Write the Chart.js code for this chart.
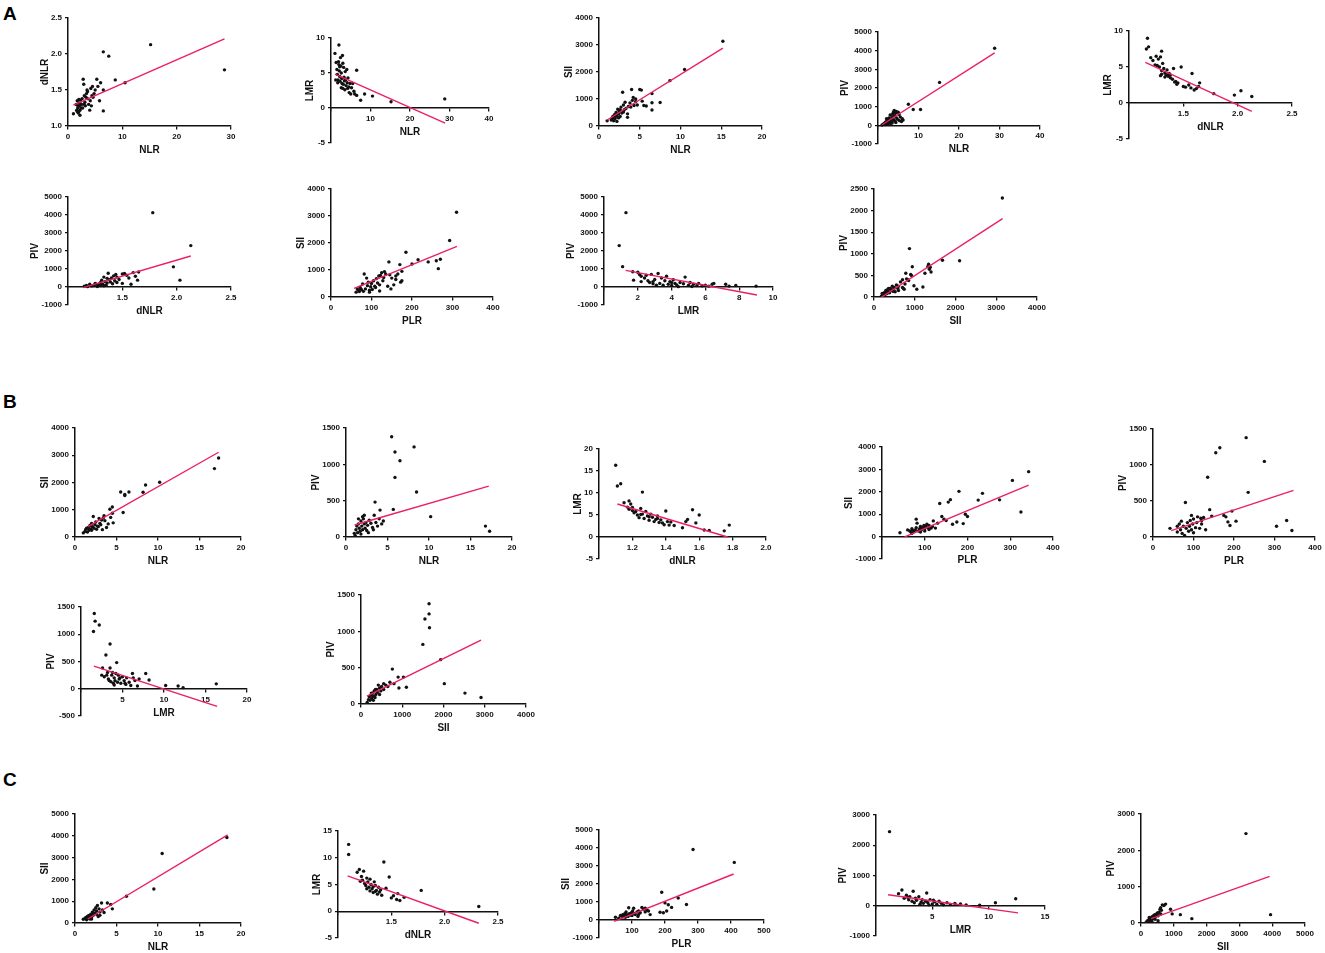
<!DOCTYPE html>
<html>
<head>
<meta charset="utf-8">
<script src="https://cdn.jsdelivr.net/npm/chart.js@4.4.1/dist/chart.umd.min.js"></script>
<style>
  html, body { margin: 0; padding: 0; background: #fff; }
  body { width: 1325px; height: 953px; position: relative; overflow: hidden; font-family: "Liberation Sans", Arial, sans-serif; }
  .tag { position: absolute; left: 3px; font-weight: bold; font-size: 19px; line-height: 19px; color: #000; }
  canvas { position: absolute; }
</style>
</head>
<body>
<div class="tag" style="top:4px">A</div>
<div class="tag" style="top:392px">B</div>
<div class="tag" style="top:770px">C</div>
<script>
// ---- data: [x, y] points, plus regression line ends ----
const a1Pts = [[1.0,1.17],[1.5,1.3],[1.6,1.22],[1.7,1.35],[1.8,1.25],[1.9,1.18],[2.0,1.32],[2.0,1.2],[2.1,1.28],[2.2,1.15],[2.3,1.36],[2.4,1.25],[2.5,1.3],[1.8,1.28],[2.2,1.22],[2.6,1.38],[2.8,1.65],[2.9,1.58],[3.0,1.42],[3.1,1.33],[3.2,1.28],[3.3,1.4],[3.4,1.45],[3.5,1.5],[3.6,1.38],[3.8,1.3],[4.0,1.22],[4.1,1.35],[4.2,1.52],[4.4,1.42],[4.5,1.55],[4.6,1.4],[4.8,1.45],[5.0,1.5],[5.3,1.65],[5.5,1.55],[5.8,1.35],[6.0,1.6],[6.5,1.21],[6.5,1.5],[6.5,2.03],[7.5,1.97],[8.7,1.64],[10.5,1.6],[15.2,2.13],[28.8,1.78],[2.7,1.25],[3.0,1.3],[2.0,1.37],[1.7,1.2],[2.3,1.31],[3.6,1.48],[4.3,1.28]];
const a1Fit = [[1.0,1.29],[28.8,2.21]];

const a2Pts = [[1.0,7.8],[1.3,6.5],[1.5,5.5],[1.6,4.8],[1.8,4.0],[2.0,9.0],[2.0,6.2],[2.1,5.3],[2.2,4.5],[2.3,3.8],[2.4,7.2],[2.5,6.0],[2.6,5.0],[2.7,4.2],[2.8,3.5],[2.9,7.5],[3.0,6.4],[3.0,2.8],[3.2,5.8],[3.3,4.4],[3.4,3.9],[3.5,2.6],[3.6,5.2],[3.7,4.0],[3.8,3.2],[4.0,5.5],[4.1,3.6],[4.2,2.8],[4.3,4.3],[4.5,3.0],[4.6,2.2],[4.8,3.5],[5.0,2.0],[5.2,2.9],[5.5,3.5],[5.8,2.4],[6.0,2.0],[6.5,5.4],[6.5,1.8],[7.5,1.1],[8.5,2.0],[10.5,1.7],[15.2,0.9],[28.8,1.3],[1.2,4.0],[1.7,3.6],[2.6,2.9],[3.1,3.4],[2.2,5.9],[1.9,6.6]];
const a2Fit = [[1.0,4.84],[28.9,-2.16]];

const a3Pts = [[1.0,190],[1.5,220],[1.6,280],[1.7,350],[1.8,190],[1.9,420],[2.0,300],[2.1,500],[2.2,380],[2.3,620],[2.4,450],[2.5,550],[2.6,350],[2.7,700],[2.8,480],[2.9,1250],[3.0,780],[3.1,600],[3.3,650],[3.5,320],[3.5,450],[3.6,720],[3.8,850],[4.0,1350],[4.1,950],[4.2,1060],[4.3,760],[4.5,900],[4.7,780],[5.0,1350],[5.2,1330],[5.3,920],[5.5,760],[5.8,740],[6.5,1200],[6.5,860],[6.5,590],[7.5,870],[8.7,1680],[10.5,2090],[15.2,3140],[1.9,250],[2.2,170],[2.6,600],[3.2,880],[3.9,700],[4.5,1000],[2.0,380],[2.4,300],[3.0,520]];
const a3Fit = [[1.0,223],[15.2,2885]];

const a4Pts = [[1.0,20],[1.3,60],[1.5,100],[1.6,50],[1.8,150],[2.0,80],[2.0,200],[2.2,120],[2.3,300],[2.4,180],[2.5,90],[2.6,250],[2.7,400],[2.8,150],[3.0,550],[3.0,280],[3.2,200],[3.3,350],[3.5,450],[3.5,120],[3.6,600],[3.8,700],[3.9,300],[4.0,800],[4.1,500],[4.2,220],[4.3,650],[4.5,750],[4.6,400],[4.8,320],[5.0,700],[5.2,580],[5.3,250],[5.5,450],[5.8,200],[6.0,350],[6.2,280],[7.5,1130],[8.7,850],[10.5,850],[15.2,2300],[28.8,4130],[1.9,40],[2.5,160],[3.1,100],[4.4,150],[2.1,350],[3.4,220]];
const a4Fit = [[1.0,30],[28.8,3880]];

const a5Pts = [[1.17,9.0],[1.16,7.5],[1.18,7.8],[1.2,6.3],[1.22,5.9],[1.25,6.5],[1.27,6.1],[1.24,5.3],[1.28,5.0],[1.3,7.2],[1.3,4.5],[1.31,5.5],[1.29,6.4],[1.32,4.8],[1.33,4.2],[1.34,3.9],[1.35,4.6],[1.36,3.7],[1.37,4.1],[1.38,3.5],[1.4,3.3],[1.41,4.8],[1.42,2.9],[1.43,3.0],[1.44,2.6],[1.45,2.8],[1.48,5.0],[1.5,2.3],[1.52,2.2],[1.55,2.5],[1.57,2.1],[1.58,4.1],[1.6,1.8],[1.62,2.0],[1.64,2.3],[1.65,2.8],[1.78,1.3],[1.97,1.1],[2.03,1.7],[2.13,0.9],[1.29,3.8],[1.33,3.6],[1.35,3.9],[1.26,5.2],[1.38,3.9],[1.3,4.0]];
const a5Fit = [[1.15,5.65],[2.13,-1.16]];

const a6Pts = [[1.15,40],[1.17,80],[1.18,20],[1.2,150],[1.22,60],[1.24,100],[1.25,200],[1.27,30],[1.28,120],[1.29,180],[1.3,250],[1.3,80],[1.31,380],[1.32,150],[1.33,550],[1.34,300],[1.35,100],[1.36,220],[1.37,760],[1.38,400],[1.39,280],[1.4,500],[1.41,180],[1.42,620],[1.43,350],[1.44,700],[1.45,250],[1.47,420],[1.5,200],[1.52,750],[1.54,650],[1.56,500],[1.58,150],[1.6,800],[1.62,600],[1.64,380],[1.65,830],[1.78,4130],[1.97,1120],[2.03,380],[2.13,2300],[1.26,150],[1.33,70],[1.45,550],[1.36,480],[1.5,720]];
const a6Fit = [[1.14,-37],[2.13,1720]];

const a7Pts = [[62,180],[65,300],[68,250],[70,200],[72,350],[75,280],[78,480],[80,210],[82,850],[85,300],[88,700],[90,420],[92,550],[95,180],[98,380],[100,500],[102,280],[105,600],[108,400],[110,350],[112,680],[115,520],[118,780],[120,450],[122,800],[125,900],[128,600],[130,720],[132,940],[135,850],[140,400],[143,1300],[145,820],[148,300],[150,700],[155,450],[160,780],[165,850],[170,1200],[172,550],[175,950],[185,1660],[200,1220],[215,1380],[240,1300],[260,1340],[265,1050],[270,1400],[293,2090],[310,3140],[120,220],[95,250],[160,650],[175,600]];
const a7Fit = [[57,320],[311,1876]];

const a8Pts = [[0.9,2300],[1.1,1130],[1.3,4130],[1.7,850],[1.75,380],[2.0,820],[2.1,700],[2.2,600],[2.2,300],[2.4,500],[2.5,650],[2.6,350],[2.7,250],[2.8,700],[2.9,300],[3.0,420],[3.2,750],[3.3,200],[3.4,500],[3.6,350],[3.7,600],[3.8,150],[3.9,300],[4.0,80],[4.1,400],[4.2,200],[4.3,120],[4.5,250],[4.7,180],[4.8,550],[5.0,100],[5.1,250],[5.3,150],[5.5,80],[5.6,200],[5.8,60],[6.0,100],[6.2,50],[6.4,150],[6.5,200],[7.2,150],[7.4,50],[7.8,80],[9.0,50],[3.5,100],[4.4,20],[2.9,180],[3.1,100],[4.0,250],[5.2,30]];
const a8Fit = [[1.28,926],[9.05,-444]];

const a9Pts = [[180,20],[200,80],[220,50],[250,100],[270,60],[290,150],[300,120],[320,80],[340,180],[350,130],[380,100],[400,200],[420,150],[450,250],[480,180],[500,220],[520,120],[550,280],[580,200],[600,250],[650,350],[700,400],[720,200],[740,180],[760,300],[780,550],[800,420],[850,380],[870,1120],[900,520],[920,500],[940,700],[980,260],[1050,180],[1200,230],[1250,550],[1320,700],[1340,760],[1360,640],[1380,690],[1400,580],[1680,850],[2100,840],[3150,2290],[260,30],[360,200],[600,150],[700,220],[470,130],[830,400]];
const a9Fit = [[189,0],[3156,1813]];

const b1Pts = [[1.0,150],[1.2,200],[1.3,280],[1.5,180],[1.6,350],[1.7,250],[1.8,420],[1.9,300],[2.0,500],[2.1,380],[2.2,750],[2.3,320],[2.4,450],[2.5,550],[2.6,280],[2.8,380],[3.0,500],[3.2,620],[3.3,270],[3.5,780],[3.6,600],[3.8,350],[4.0,480],[4.2,1020],[4.3,720],[4.5,1100],[4.5,870],[4.6,520],[5.5,1650],[5.8,900],[6.0,1520],[6.0,1560],[6.5,1650],[8.2,1640],[8.5,1910],[10.2,2010],[16.8,2510],[17.3,2900],[2.0,250],[2.7,400],[3.1,450],[1.4,320],[2.9,680],[3.4,700]];
const b1Fit = [[1.54,378],[17.3,3110]];

const b2Pts = [[1.0,50],[1.1,20],[1.2,100],[1.3,150],[1.4,60],[1.5,180],[1.6,120],[1.7,80],[1.8,220],[1.9,150],[2.0,280],[2.0,100],[2.1,250],[2.2,180],[2.3,120],[2.4,200],[2.5,90],[2.6,160],[2.8,230],[3.0,190],[3.2,130],[3.4,300],[3.5,480],[3.6,200],[3.8,150],[4.0,250],[4.1,370],[4.3,180],[4.5,220],[5.5,1380],[5.7,380],[5.9,1170],[5.9,820],[6.5,1050],[8.2,1240],[8.5,620],[10.2,280],[16.8,150],[17.3,80],[1.5,250],[2.7,60],[3.3,100],[1.8,40],[2.2,300]];
const b2Fit = [[1.04,165],[17.2,700]];

const b3Pts = [[1.1,16.3],[1.11,11.6],[1.13,12.1],[1.15,7.8],[1.17,6.8],[1.18,6.3],[1.18,8.2],[1.19,7.5],[1.2,6.0],[1.21,5.5],[1.22,5.8],[1.23,5.0],[1.24,4.4],[1.25,6.5],[1.26,10.2],[1.26,5.2],[1.27,4.2],[1.28,5.8],[1.29,4.8],[1.3,3.8],[1.31,5.2],[1.32,4.5],[1.33,3.5],[1.34,4.0],[1.35,4.8],[1.36,3.3],[1.37,3.9],[1.38,3.2],[1.39,2.8],[1.4,5.9],[1.41,3.5],[1.42,2.7],[1.43,3.4],[1.45,2.6],[1.5,2.1],[1.52,3.5],[1.53,4.0],[1.56,6.2],[1.58,3.2],[1.6,5.0],[1.63,1.6],[1.66,1.5],[1.75,1.4],[1.78,2.7],[1.2,6.7],[1.3,4.6],[1.25,5.1],[1.35,4.2]];
const b3Fit = [[1.11,7.5],[1.77,0]];

const b4Pts = [[42,170],[60,300],[65,250],[68,200],[70,350],[72,280],[75,220],[78,300],[80,400],[80,780],[82,600],[85,250],[88,350],[90,450],[92,300],[95,400],[98,500],[100,350],[102,450],[105,550],[108,400],[110,500],[115,380],[118,450],[120,700],[125,380],[130,600],[135,1480],[140,900],[145,780],[150,720],[155,1540],[160,1650],[165,550],[175,650],[180,2020],[190,580],[195,1000],[200,900],[225,1630],[235,1930],[275,1640],[305,2510],[325,1100],[343,2900],[70,150],[90,200],[110,320],[100,250]];
const b4Fit = [[53,-15],[343,2300]];

const b5Pts = [[42,120],[60,70],[65,180],[68,100],[70,220],[72,50],[75,150],[78,20],[80,480],[82,120],[85,200],[88,80],[90,150],[92,230],[95,100],[98,180],[100,250],[105,130],[108,200],[110,280],[115,120],[118,260],[120,180],[125,270],[130,100],[135,830],[140,380],[145,290],[155,1170],[165,1240],[175,300],[185,210],[195,360],[205,220],[230,1380],[235,620],[275,1050],[305,150],[330,230],[343,90],[60,150],[100,60],[120,230],[95,300],[190,160],[180,280]];
const b5Fit = [[45,88],[347,648]];

const b6Pts = [[1.5,1050],[1.6,1380],[1.7,1240],[2.2,1170],[2.5,250],[2.6,380],[2.8,220],[3.0,620],[3.2,300],[3.3,180],[3.5,820],[3.5,380],[3.6,130],[3.7,250],[3.8,300],[3.9,100],[4.0,200],[4.1,150],[4.2,280],[4.3,480],[4.4,120],[4.5,250],[4.6,180],[4.8,100],[5.0,220],[5.2,150],[5.4,80],[5.5,200],[5.8,120],[6.0,60],[6.2,280],[6.3,200],[6.5,150],[6.8,50],[7.0,180],[7.8,280],[8.2,160],[10.2,60],[11.7,50],[12.3,20],[16.3,90],[3.4,150],[4.7,200],[5.3,100],[4.0,70],[3.1,250]];
const b6Fit = [[1.55,415],[16.4,-323]];

const b7Pts = [[150,20],[180,60],[200,100],[220,50],[240,120],[260,80],[280,150],[300,110],[320,180],[340,90],[360,130],[380,200],[400,160],[420,260],[450,220],[480,180],[500,240],[550,200],[600,260],[650,240],[700,300],[760,480],[800,280],[900,370],[920,220],[1030,370],[1100,230],[1500,820],[1550,1170],[1650,1380],[1650,1240],[1660,1050],[1930,610],[2020,280],[2520,150],[2910,90],[250,150],[350,200],[450,130],[300,50],[550,280]];
const b7Fit = [[143,110],[2910,878]];

const c1Pts = [[1.0,170],[1.2,200],[1.3,250],[1.4,150],[1.5,300],[1.6,220],[1.7,350],[1.8,180],[1.9,400],[2.0,280],[2.1,500],[2.2,350],[2.3,600],[2.4,450],[2.5,700],[2.6,550],[2.7,800],[2.8,300],[3.0,500],[3.2,920],[3.3,600],[3.5,480],[3.9,920],[4.3,850],[4.5,650],[6.2,1230],[9.5,1560],[10.5,3190],[18.3,3920],[1.6,320],[2.0,180],[2.2,450],[2.9,650],[3.0,350],[1.8,260],[2.6,400]];
const c1Fit = [[1.54,183],[18.4,4040]];

const c2Pts = [[1.1,12.5],[1.1,10.6],[1.18,7.3],[1.2,7.8],[1.22,6.5],[1.23,5.8],[1.24,7.5],[1.25,5.2],[1.26,4.8],[1.27,6.2],[1.28,5.5],[1.29,4.5],[1.3,6.0],[1.3,3.8],[1.31,5.0],[1.32,4.2],[1.33,3.5],[1.34,5.5],[1.35,4.8],[1.36,3.9],[1.37,3.2],[1.38,4.5],[1.39,3.6],[1.4,4.0],[1.41,3.0],[1.43,9.2],[1.45,4.3],[1.48,6.4],[1.5,2.5],[1.52,2.9],[1.55,2.2],[1.56,3.3],[1.58,2.0],[1.62,2.6],[1.78,3.9],[2.32,0.9],[1.27,4.2],[1.33,4.6],[1.21,5.6],[1.35,3.7]];
const c2Fit = [[1.09,6.6],[2.32,-2.24]];

const c3Pts = [[50,150],[60,100],[65,250],[70,200],[72,300],[75,180],[78,350],[80,250],[82,450],[85,300],[88,200],[90,680],[92,350],[95,280],[98,400],[100,250],[102,500],[105,650],[108,350],[110,300],[115,450],[118,200],[120,500],[125,400],[130,700],[135,600],[140,450],[145,550],[150,500],[155,300],[185,430],[190,1540],[195,400],[200,950],[205,500],[210,850],[220,700],[240,1220],[265,860],[285,3920],[410,3200],[80,150],[100,380],[120,300],[140,650]];
const c3Fit = [[46,-74],[408,2555]];

const c4Pts = [[1.2,2450],[2.0,400],[2.3,520],[2.5,250],[2.7,350],[2.9,200],[3.0,300],[3.2,150],[3.3,480],[3.5,250],[3.6,180],[3.8,300],[4.0,120],[4.1,200],[4.2,80],[4.4,150],[4.5,420],[4.6,100],[4.8,200],[5.0,60],[5.2,130],[5.4,50],[5.6,150],[5.8,80],[6.0,30],[6.3,100],[6.6,40],[7.0,80],[7.5,60],[8.0,30],[9.2,20],[10.6,100],[12.4,230],[3.9,50],[4.7,30],[2.8,280],[3.4,100],[5.1,180]];
const c4Fit = [[1.07,362],[12.6,-234]];

const c5Pts = [[150,10],[180,40],[200,60],[220,30],[240,90],[260,70],[280,110],[300,140],[320,80],[340,170],[360,120],[380,200],[400,150],[420,230],[450,180],[480,250],[500,280],[520,200],[550,300],[580,380],[600,420],[620,350],[650,500],[700,480],[750,520],[900,380],[950,250],[1200,230],[1550,120],[3200,2460],[3950,230],[330,50],[430,100],[520,60],[250,150],[600,250]];
const c5Fit = [[308,120],[3923,1283]];

// axes: [min, max, step] and titles
const panels = [
  { pts: a1Pts, fit: a1Fit, x: [0, 30, 10], y: [1, 2.5, 0.5], xt: 'NLR', yt: 'dNLR' },
  { pts: a2Pts, fit: a2Fit, x: [0, 40, 10], y: [-5, 10, 5], xt: 'NLR', yt: 'LMR' },
  { pts: a3Pts, fit: a3Fit, x: [0, 20, 5], y: [0, 4000, 1000], xt: 'NLR', yt: 'SII' },
  { pts: a4Pts, fit: a4Fit, x: [0, 40, 10], y: [-1000, 5000, 1000], xt: 'NLR', yt: 'PIV' },
  { pts: a5Pts, fit: a5Fit, x: [1, 2.5, 0.5], y: [-5, 10, 5], xt: 'dNLR', yt: 'LMR' },
  { pts: a6Pts, fit: a6Fit, x: [1, 2.5, 0.5], y: [-1000, 5000, 1000], xt: 'dNLR', yt: 'PIV' },
  { pts: a7Pts, fit: a7Fit, x: [0, 400, 100], y: [0, 4000, 1000], xt: 'PLR', yt: 'SII' },
  { pts: a8Pts, fit: a8Fit, x: [0, 10, 2], y: [-1000, 5000, 1000], xt: 'LMR', yt: 'PIV' },
  { pts: a9Pts, fit: a9Fit, x: [0, 4000, 1000], y: [0, 2500, 500], xt: 'SII', yt: 'PIV' },
  { pts: b1Pts, fit: b1Fit, x: [0, 20, 5], y: [0, 4000, 1000], xt: 'NLR', yt: 'SII' },
  { pts: b2Pts, fit: b2Fit, x: [0, 20, 5], y: [0, 1500, 500], xt: 'NLR', yt: 'PIV' },
  { pts: b3Pts, fit: b3Fit, x: [1, 2, 0.2], y: [-5, 20, 5], xt: 'dNLR', yt: 'LMR' },
  { pts: b4Pts, fit: b4Fit, x: [0, 400, 100], y: [-1000, 4000, 1000], xt: 'PLR', yt: 'SII' },
  { pts: b5Pts, fit: b5Fit, x: [0, 400, 100], y: [0, 1500, 500], xt: 'PLR', yt: 'PIV' },
  { pts: b6Pts, fit: b6Fit, x: [0, 20, 5], y: [-500, 1500, 500], xt: 'LMR', yt: 'PIV' },
  { pts: b7Pts, fit: b7Fit, x: [0, 4000, 1000], y: [0, 1500, 500], xt: 'SII', yt: 'PIV' },
  { pts: c1Pts, fit: c1Fit, x: [0, 20, 5], y: [0, 5000, 1000], xt: 'NLR', yt: 'SII' },
  { pts: c2Pts, fit: c2Fit, x: [1, 2.5, 0.5], y: [-5, 15, 5], xt: 'dNLR', yt: 'LMR' },
  { pts: c3Pts, fit: c3Fit, x: [0, 500, 100], y: [-1000, 5000, 1000], xt: 'PLR', yt: 'SII' },
  { pts: c4Pts, fit: c4Fit, x: [0, 15, 5], y: [-1000, 3000, 1000], xt: 'LMR', yt: 'PIV' },
  { pts: c5Pts, fit: c5Fit, x: [0, 5000, 1000], y: [0, 3000, 1000], xt: 'SII', yt: 'PIV' }
];

// plot area of each panel on the page: [left, top, right, bottom]
const boxes = [
  [68, 18, 231, 126], [331, 38, 489, 143], [599, 18, 762, 126], [878, 32, 1040, 144], [1129, 31, 1292, 139],
  [68, 197, 231, 305], [331, 189, 493, 297], [604, 197, 773, 305], [874, 189, 1037, 297],
  [75, 428, 241, 537], [346, 428, 512, 537], [599, 449, 766, 559], [882, 447, 1053, 559], [1153, 429, 1315, 537],
  [81, 607, 247, 716], [361, 595, 526, 704],
  [75, 814, 241, 923], [338, 831, 498, 938], [599, 830, 764, 938], [876, 815, 1045, 936], [1141, 814, 1305, 923]
];

const FONT = '"Liberation Sans", Arial, sans-serif';
const TICK_PX = 8, TITLE_PX = 10;
const M = 54, PT = 8, PR = 14, XH = 30, TL = 3, TP = 3;
const INK = '#111', FIT = '#ec1f64';

const meas = document.createElement('canvas').getContext('2d');

function decimals(step) {
  return step < 1 ? (String(step).split('.')[1] || '').length : 0;
}

function widestLabel(min, max, step, d) {
  meas.font = 'bold ' + TICK_PX + 'px ' + FONT;
  let w = 0;
  for (let v = min; v <= max + step / 1000; v += step) {
    w = Math.max(w, meas.measureText(v.toFixed(d)).width);
  }
  return w;
}

function draw(p, box) {
  const [l, t, r, b] = box;
  const pw = r - l, ph = b - t;
  const W = M + pw + PR, H = PT + ph + XH;
  const cv = document.createElement('canvas');
  cv.width = W; cv.height = H;
  cv.style.left = (l - M) + 'px';
  cv.style.top = (t - PT) + 'px';
  cv.style.width = W + 'px';
  cv.style.height = H + 'px';
  document.body.appendChild(cv);

  const [x0, x1, xs] = p.x, [y0, y1, ys] = p.y;
  const xd = decimals(xs), yd = decimals(ys);
  const cross = Math.max(y0, 0);
  const hideFirst = y0 < 0;
  const lh = TITLE_PX * 1.2;
  const yPad = Math.max(0, M - TL - TP - widestLabel(y0, y1, ys, yd) - lh);
  const tickFont = { size: TICK_PX, weight: 'bold', family: FONT };
  const titleFont = { size: TITLE_PX, weight: 'bold', family: FONT };

  new Chart(cv, {
    type: 'scatter',
    data: {
      datasets: [
        { type: 'line', data: p.fit.map(([x, y]) => ({ x, y })), borderColor: FIT, borderWidth: 1.4, pointRadius: 0, fill: false, order: 0 },
        { data: p.pts.map(([x, y]) => ({ x, y })), backgroundColor: INK, borderWidth: 0, pointRadius: 1.7, order: 1 }
      ]
    },
    options: {
      responsive: false,
      animation: false,
      events: [],
      // the x axis sits at a data value, so it reserves no room of its own
      layout: { padding: { left: 0, top: PT, right: PR, bottom: XH } },
      plugins: { legend: { display: false }, tooltip: { enabled: false } },
      scales: {
        x: {
          type: 'linear', min: x0, max: x1, position: { y: cross },
          ticks: {
            stepSize: xs, padding: TP, color: INK, font: tickFont, maxRotation: 0, autoSkip: false,
            callback: (v, i) => (i === 0 && hideFirst) ? '' : Number(v).toFixed(xd)
          },
          grid: { drawOnChartArea: false, tickLength: TL, color: INK, lineWidth: 1.3 },
          border: { color: INK, width: 1.5 },
          title: { display: true, text: p.xt, color: INK, font: titleFont, padding: 0 },
          afterFit: s => { s.height = XH; }
        },
        y: {
          type: 'linear', min: y0, max: y1, position: 'left',
          ticks: {
            stepSize: ys, padding: TP, color: INK, font: tickFont, autoSkip: false,
            callback: v => Number(v).toFixed(yd)
          },
          grid: { drawOnChartArea: false, tickLength: TL, color: INK, lineWidth: 1.3 },
          border: { color: INK, width: 1.5 },
          title: { display: true, text: p.yt, color: INK, font: titleFont, padding: { top: yPad, bottom: 0 } },
          afterFit: s => { s.width = M; }
        }
      }
    }
  });
}

panels.forEach((p, i) => draw(p, boxes[i]));
</script>
</body>
</html>
